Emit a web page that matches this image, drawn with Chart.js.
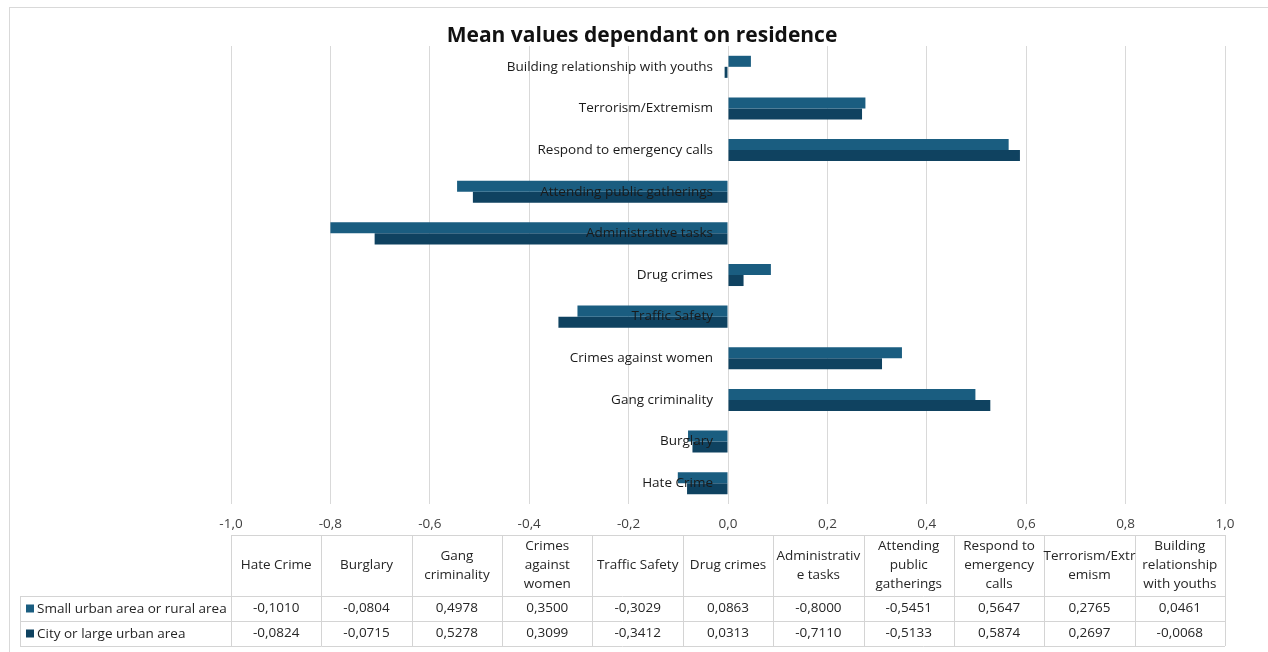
<!DOCTYPE html>
<html>
<head>
<meta charset="utf-8">
<script src="https://cdn.jsdelivr.net/npm/chart.js@4.4.1/dist/chart.umd.min.js"></script>
<style>
  body { margin: 0; background: #fff; }
  #wrap { width: 1268px; height: 652px; position: relative; }
</style>
</head>
<body>
<div id="wrap"><canvas id="myBarChart" width="1268" height="652"></canvas></div>
<script>
// categories, bottom to top in the chart (table order left to right)
var categories = ['Hate Crime', 'Burglary', 'Gang criminality', 'Crimes against women', 'Traffic Safety',
    'Drug crimes', 'Administrative tasks', 'Attending public gatherings', 'Respond to emergency calls',
    'Terrorism/Extremism', 'Building relationship with youths'];
// header texts of the table, wrapped like the original
var tableHeaders = [['Hate Crime'], ['Burglary'], ['Gang', 'criminality'], ['Crimes', 'against', 'women'],
    ['Traffic Safety'], ['Drug crimes'], ['Administrativ', 'e tasks'], ['Attending', 'public', 'gatherings'],
    ['Respond to', 'emergency', 'calls'], ['Terrorism/Extr', 'emism'], ['Building', 'relationship', 'with youths']];
var seriesNames = ['Small urban area or rural area', 'City or large urban area'];
var smallUrban = [-0.1010, -0.0804, 0.4978, 0.3500, -0.3029, 0.0863, -0.8000, -0.5451, 0.5647, 0.2765, 0.0461];
var cityUrban = [-0.0824, -0.0715, 0.5278, 0.3099, -0.3412, 0.0313, -0.7110, -0.5133, 0.5874, 0.2697, -0.0068];
var xTicks = [-1.0, -0.8, -0.6, -0.4, -0.2, 0.0, 0.2, 0.4, 0.6, 0.8, 1.0];

var colors = ['#1a5d80', '#0f4260'];
var fontFamily = "'Open Sans', 'Noto Sans', sans-serif";

function fmt(v) {
    return v.toFixed(4).replace('.', ',');
}

var extrasPlugin = {
    id: 'extras',
    beforeDraw: function (chart) {
        var c = chart.ctx;
        c.save();
        c.strokeStyle = '#d9d9d9';
        c.lineWidth = 1;
        c.strokeRect(9.5, 7.5, 1280, 660);
        c.fillStyle = '#111';
        c.font = 'bold 21px ' + fontFamily;
        c.textAlign = 'center';
        c.textBaseline = 'middle';
        c.fillText('Mean values dependant on residence', 642, 36);
        c.restore();
    },
    afterDatasetsDraw: function (chart) {
        var c = chart.ctx;
        var xs = chart.scales.x, ys = chart.scales.y;
        c.save();
        // category labels at the zero line
        c.font = '13.5px ' + fontFamily;
        c.fillStyle = '#1a1a1a';
        c.textAlign = 'right';
        c.textBaseline = 'middle';
        var zx = xs.getPixelForValue(0);
        categories.forEach(function (lab, i) {
            c.fillText(lab, zx - 15, ys.getPixelForValue(i));
        });

        // data table
        var left = xs.left, right = xs.right;
        var n = categories.length;
        var w = (right - left) / n;
        var top = 535, headBottom = 596, row1 = 621, row2 = 646, labelLeft = 20;
        c.strokeStyle = '#d4d4d4';
        c.lineWidth = 1;
        c.beginPath();
        c.moveTo(left, top + 0.5); c.lineTo(right, top + 0.5);
        c.moveTo(labelLeft, headBottom + 0.5); c.lineTo(right, headBottom + 0.5);
        c.moveTo(labelLeft, row1 + 0.5); c.lineTo(right, row1 + 0.5);
        c.moveTo(labelLeft, row2 + 0.5); c.lineTo(right, row2 + 0.5);
        c.moveTo(labelLeft + 0.5, headBottom); c.lineTo(labelLeft + 0.5, row2);
        for (var i = 0; i <= n; i++) {
            var px = Math.round(left + i * w) + 0.5;
            c.moveTo(px, top); c.lineTo(px, row2);
        }
        c.stroke();

        c.fillStyle = '#262626';
        c.font = '13.5px ' + fontFamily;
        c.textAlign = 'center';
        c.textBaseline = 'middle';
        var hmid = (top + headBottom) / 2;
        tableHeaders.forEach(function (lines, i) {
            var cx = left + (i + 0.5) * w;
            var y0 = hmid - (lines.length - 1) * 9.5;
            lines.forEach(function (ln, k) {
                c.fillText(ln, cx, y0 + k * 19);
            });
        });
        var rows = [smallUrban, cityUrban];
        var rowMid = [(headBottom + row1) / 2, (row1 + row2) / 2];
        rows.forEach(function (vals, r) {
            vals.forEach(function (v, i) {
                c.fillText(fmt(v), left + (i + 0.5) * w, rowMid[r]);
            });
        });
        c.textAlign = 'left';
        seriesNames.forEach(function (nm, r) {
            c.fillStyle = colors[r];
            c.fillRect(labelLeft + 6, rowMid[r] - 4, 8, 8);
            c.fillStyle = '#262626';
            c.fillText(nm, labelLeft + 17, rowMid[r] + 1);
        });
        c.restore();
    }
};

var ctx = document.getElementById('myBarChart').getContext('2d');
var myBarChart = new Chart(ctx, {
    type: 'bar',
    data: {
        labels: categories,
        datasets: [{
            label: seriesNames[0],
            data: smallUrban,
            backgroundColor: colors[0],
            categoryPercentage: 0.53,
            barPercentage: 1.0
        }, {
            label: seriesNames[1],
            data: cityUrban,
            backgroundColor: colors[1],
            categoryPercentage: 0.53,
            barPercentage: 1.0
        }]
    },
    options: {
        indexAxis: 'y',
        responsive: false,
        animation: false,
        layout: { padding: { left: 231, right: 43, top: 46, bottom: 118 } },
        plugins: {
            legend: { display: false },
            title: { display: false },
            tooltip: { enabled: false }
        },
        scales: {
            x: {
                min: -1,
                max: 1,
                afterBuildTicks: function (axis) {
                    axis.ticks = xTicks.map(function (v) { return { value: v }; });
                },
                afterFit: function (axis) { axis.height = 30; },
                grid: { color: '#d9d9d9', drawTicks: false },
                border: { display: false },
                ticks: {
                    padding: 12,
                    color: '#404040',
                    font: { size: 13.5, family: fontFamily },
                    callback: function (v) { return v.toFixed(1).replace('.', ','); }
                }
            },
            y: {
                display: false,
                reverse: true
            }
        }
    },
    plugins: [extrasPlugin]
});
</script>
</body>
</html>
